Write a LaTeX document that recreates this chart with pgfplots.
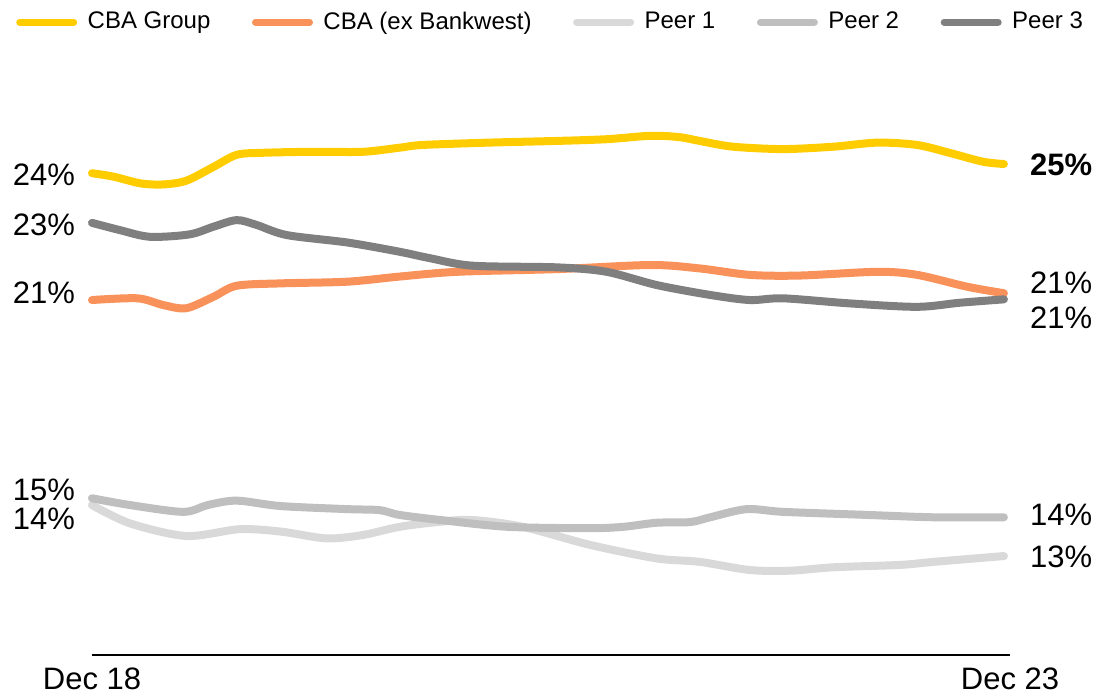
\documentclass[border=0pt]{standalone}
\usepackage{pgfplots}
\pgfplotsset{compat=1.18}
\usepackage{fontspec}
\setmainfont{Liberation Sans}
\definecolor{cbayel}{HTML}{FFCC00}
\definecolor{cbaora}{HTML}{F9915A}
\definecolor{peerA}{HTML}{D9D9D9}
\definecolor{peerB}{HTML}{BFBFBF}
\definecolor{peerC}{HTML}{7F7F7F}
\newcommand{\lblfont}{\fontsize{15.5bp}{18bp}\selectfont}
\begin{document}
\begin{tikzpicture}
\begin{axis}[
  at={(46bp,19.5bp)}, anchor=south west,
  scale only axis, width=459bp, height=267.5bp,
  xmin=0, xmax=60.3, ymin=10.2, ymax=25.935,
  axis x line=bottom, axis y line=none,
  axis line style={-, line width=1bp, black},
  xtick={0,60.3}, xticklabels={Dec 18, Dec 23},
  major tick length=0pt,
  xticklabel style={font=\lblfont, inner sep=0pt, yshift=-6bp},
  clip=false,
  legend columns=5,
  legend style={draw=none, fill=none, at={(-0.0895,1.183)}, anchor=west,
    font=\fontsize{12bp}{14bp}\selectfont,
    /tikz/every even column/.append style={column sep=18.8bp}},
  legend image code/.code={\draw[#1, line width=3.5bp, line cap=round] (0bp,0bp) -- (27bp,0bp); \path (30bp,0bp);},
  every axis plot/.append style={line width=4bp, line cap=round, line join=round, smooth},
]
\addplot[cbayel] coordinates {
(0,24.37) (1.4,24.27) (3.2,24.07) (4.7,24.04) (6.2,24.15) (8.0,24.56) (9.5,24.91) (11.2,24.97) (14.5,25.00) (17.8,25.00) (20.2,25.12) (21.7,25.20) (26.1,25.27) (30.6,25.32) (33.8,25.37) (36.7,25.47) (38.6,25.43) (39.9,25.32) (42.1,25.15) (45.4,25.08) (48.7,25.15) (51.6,25.27) (54.2,25.20) (56.4,24.96) (58.5,24.71) (59.9,24.64)};
\addlegendentry{CBA Group}
\addplot[cbaora] coordinates {
(0,20.64) (3.0,20.69) (4.7,20.49) (6.2,20.40) (8.0,20.74) (9.5,21.06) (12.4,21.13) (16.8,21.18) (20.2,21.33) (24.0,21.47) (30.6,21.55) (36.7,21.67) (39.9,21.57) (43.2,21.38) (46.5,21.36) (51.6,21.47) (54.2,21.38) (57.5,21.03) (59.9,20.84)};
\addlegendentry{CBA (ex Bankwest)}
\addplot[peerA] coordinates {
(0,14.61) (2.5,14.07) (6.2,13.70) (9.7,13.90) (12.4,13.83) (15.4,13.63) (17.8,13.73) (20.2,13.97) (22.9,14.12) (25.0,14.17) (28.3,13.97) (32.7,13.44) (37.1,13.04) (39.9,12.94) (43.2,12.70) (45.9,12.68) (48.7,12.78) (53.1,12.85) (55.3,12.94) (59.9,13.11)};
\addlegendentry{Peer 1}
\addplot[peerB] coordinates {
(0,14.81) (2.5,14.61) (6.0,14.41) (7.6,14.61) (9.5,14.74) (12.4,14.58) (16.8,14.49) (18.9,14.46) (20.2,14.32) (22.9,14.17) (27.3,13.97) (32.7,13.93) (34.9,13.97) (37.1,14.09) (39.3,14.11) (40.6,14.25) (43.0,14.49) (45.4,14.41) (50.9,14.32) (55.3,14.25) (59.9,14.25)};
\addlegendentry{Peer 2}
\addplot[peerC] coordinates {
(0,22.91) (1.8,22.70) (3.8,22.50) (6.4,22.57) (8.0,22.80) (9.5,22.99) (10.8,22.85) (12.8,22.55) (16.8,22.33) (20.2,22.06) (22.2,21.87) (25.0,21.65) (30.6,21.60) (33.8,21.47) (37.1,21.08) (40.6,20.79) (43.2,20.64) (45.4,20.69) (49.8,20.54) (54.2,20.44) (57.0,20.56) (59.9,20.66)};
\addlegendentry{Peer 3}
\begin{scope}[every node/.style={font=\lblfont, inner sep=0pt}]
\node[anchor=east] at (axis cs:-1.1,24.32) {24\%};
\node[anchor=east] at (axis cs:-1.1,22.85) {23\%};
\node[anchor=east] at (axis cs:-1.1,20.85) {21\%};
\node[anchor=east] at (axis cs:-1.1,15.05) {15\%};
\node[anchor=east] at (axis cs:-1.1,14.20) {14\%};
\node[anchor=west] at (axis cs:61.6,24.61) {\bfseries 25\%};
\node[anchor=west] at (axis cs:61.6,21.14) {21\%};
\node[anchor=west] at (axis cs:61.6,20.11) {21\%};
\node[anchor=west] at (axis cs:61.6,14.32) {14\%};
\node[anchor=west] at (axis cs:61.6,13.08) {13\%};
\end{scope}
\end{axis}
\pgfresetboundingbox
\path[use as bounding box] (0,0) rectangle (547bp,347bp);
\end{tikzpicture}
\end{document}
